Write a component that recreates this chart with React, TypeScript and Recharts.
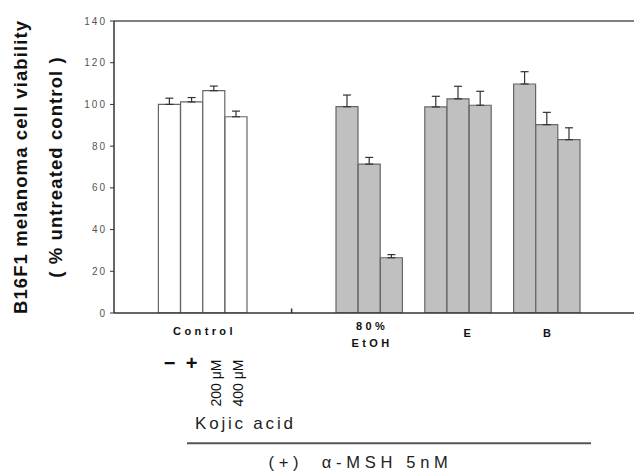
import React from "react";
import { BarChart, Bar, XAxis, YAxis, ErrorBar, Cell, ReferenceLine } from "recharts";

// ---- data ----
const groupLabels = ["Control", "80%\nEtOH", "E", "B"];
const controlValues = [100, 101.2, 106.6, 94.1];
const controlErrors = [3.0, 2.1, 2.2, 2.7];
const controlDoses = ["−", "+", "200 μM", "400 μM"];
const etohValues = [98.9, 71.4, 26.5];
const etohErrors = [5.6, 3.2, 1.5];
const eValues = [98.8, 102.7, 99.6];
const eErrors = [5.1, 6.0, 6.7];
const bValues = [109.8, 90.3, 83.1];
const bErrors = [5.9, 5.9, 5.7];
const yTicks = [0, 20, 40, 60, 80, 100, 120, 140];
const yAxisTitle = ["B16F1 melanoma cell viability", "( % untreated control )"];
const kojicLabel = "Kojic acid";
const mshLabel = "(+)  α-MSH 5nM";

// ---- layout / style constants ----
const FONT = "'Liberation Sans', Arial, Helvetica, sans-serif";
const SLOTS = 24;
const BAND = 22.2;
const PLOT_LEFT = 114;
const PLOT_TOP = 21;
const PLOT_BOTTOM = 313;
const CHART_W = 650;
const CHART_H = 472;
const X_AXIS_H = 30;
const WHITE = "#ffffff";
const GREY = "#c0c0c0";

type Row = {
  key: string;
  value: number | null;
  err?: [number, number];
  fill?: string;
  group?: string;
  groupIndex?: number;
  groupSpan?: number;
  dose?: string;
  divider?: boolean;
};

const rows: Row[] = [];
let slot = 0;
const spacer = (n: number, divider = false) => {
  for (let i = 0; i < n; i++) {
    rows.push({ key: `s${slot++}`, value: null, divider: divider && i === 0 });
  }
};
const addGroup = (
  gi: number,
  values: number[],
  errors: number[],
  fill: string,
  doses?: string[]
) => {
  values.forEach((v, i) => {
    rows.push({
      key: `s${slot++}`,
      value: v,
      err: [0, errors[i]],
      fill,
      group: i === 0 ? groupLabels[gi] : undefined,
      groupIndex: gi,
      groupSpan: values.length,
      dose: doses ? doses[i] : undefined,
    });
  });
};
spacer(2);
addGroup(0, controlValues, controlErrors, WHITE, controlDoses);
spacer(2);
spacer(2, true);
addGroup(1, etohValues, etohErrors, GREY);
spacer(1);
addGroup(2, eValues, eErrors, GREY);
spacer(1);
addGroup(3, bValues, bErrors, GREY);
spacer(SLOTS - rows.length);

const rowByKey: Record<string, Row> = {};
rows.forEach((r) => (rowByKey[r.key] = r));

const labelNudge = [0, 1, 9, 0];

function XTick(props: any) {
  const { x, y, payload } = props;
  const row = rowByKey[payload?.value];
  if (!row) return null;
  const parts: React.ReactNode[] = [];
  if (row.divider) {
    const dx = x - BAND / 2;
    parts.push(<line key="div" x1={dx} x2={dx} y1={y} y2={y - 4.5} stroke="#333" strokeWidth={1.5} />);
  }
  if (row.group) {
    const cx = x + (BAND * ((row.groupSpan || 1) - 1)) / 2 + labelNudge[row.groupIndex || 0];
    const lines = row.group.split("\n");
    const baseY = lines.length > 1 ? 17 : row.groupIndex === 0 ? 21.5 : 23.5;
    lines.forEach((ln, i) => {
      parts.push(
        <text
          key={`g${i}`}
          x={cx + 1.7}
          y={y + baseY + i * 16.7}
          textAnchor="middle"
          fontFamily={FONT}
          fontWeight="bold"
          fontSize={11}
          letterSpacing={3.4}
          fill="#111"
        >
          {ln}
        </text>
      );
    });
  }
  if (row.dose) {
    if (row.dose.length === 1) {
      parts.push(
        <text
          key="dose"
          x={x}
          y={y + 50}
          textAnchor="middle"
          dominantBaseline="central"
          fontFamily={FONT}
          fontWeight="bold"
          fontSize={20}
          fill="#111"
        >
          {row.dose}
        </text>
      );
    } else {
      const bx = x + 7;
      const by = y + 93.5;
      parts.push(
        <text
          key="dose"
          x={bx}
          y={by}
          transform={`rotate(-90 ${bx} ${by})`}
          textAnchor="start"
          fontFamily={FONT}
          fontSize={14}
          fill="#111"
        >
          {row.dose}
        </text>
      );
    }
  }
  return <g>{parts}</g>;
}

export default function App() {
  return (
    <div
      style={{
        position: "fixed",
        left: 0,
        top: 0,
        width: 634,
        height: 472,
        overflow: "hidden",
        background: "#fff",
      }}
    >
      <BarChart
        width={CHART_W}
        height={CHART_H}
        data={rows}
        margin={{
          top: PLOT_TOP,
          left: 0,
          right: CHART_W - PLOT_LEFT - SLOTS * BAND,
          bottom: CHART_H - PLOT_BOTTOM - X_AXIS_H,
        }}
        barCategoryGap={0}
        barGap={0}
      >
        <XAxis
          dataKey="key"
          interval={0}
          height={X_AXIS_H}
          tickLine={false}
          tickSize={0}
          tickMargin={0}
          axisLine={{ stroke: "#333", strokeWidth: 1.5 }}
          tick={(p: any) => <XTick {...p} />}
        />
        <YAxis
          width={PLOT_LEFT}
          domain={[0, 140]}
          ticks={yTicks}
          interval={0}
          allowDataOverflow
          tickSize={4}
          tickMargin={3}
          tickLine={{ stroke: "#333", strokeWidth: 1 }}
          axisLine={{ stroke: "#333", strokeWidth: 1.5 }}
          tick={{ fontSize: 10, fill: "#555", fontFamily: FONT, letterSpacing: 2 }}
        />
        <ReferenceLine y={140} stroke="#555" strokeWidth={1.5} />
        <Bar dataKey="value" isAnimationActive={false} stroke="#666" strokeWidth={1.2}>
          {rows.map((r) => (
            <Cell key={r.key} fill={r.fill || WHITE} />
          ))}
          <ErrorBar dataKey="err" width={4} stroke="#333" strokeWidth={1.2} direction="y" />
        </Bar>
      </BarChart>
      <svg
        width={634}
        height={472}
        style={{ position: "absolute", left: 0, top: 0, pointerEvents: "none" }}
      >
        <text
          x={27}
          y={167}
          transform="rotate(-90 27 167)"
          textAnchor="middle"
          fontFamily={FONT}
          fontWeight="bold"
          fontSize={18.5}
          letterSpacing={1.1}
          fill="#111"
        >
          {yAxisTitle[0]}
        </text>
        <text
          x={62}
          y={167}
          transform="rotate(-90 62 167)"
          textAnchor="middle"
          fontFamily={FONT}
          fontWeight="bold"
          fontSize={18.5}
          letterSpacing={1.1}
          fill="#111"
        >
          {yAxisTitle[1]}
        </text>
        <text
          x={195}
          y={429}
          fontFamily={FONT}
          fontSize={17}
          letterSpacing={2.8}
          fill="#222"
        >
          {kojicLabel}
        </text>
        <line x1={187} x2={591} y1={443.3} y2={443.3} stroke="#555" strokeWidth={2} />
        <text
          x={268.5}
          y={468}
          fontFamily={FONT}
          fontSize={16.5}
          letterSpacing={4.7}
          fill="#222"
          style={{ whiteSpace: "pre" }}
        >
          {mshLabel}
        </text>
      </svg>
    </div>
  );
}
